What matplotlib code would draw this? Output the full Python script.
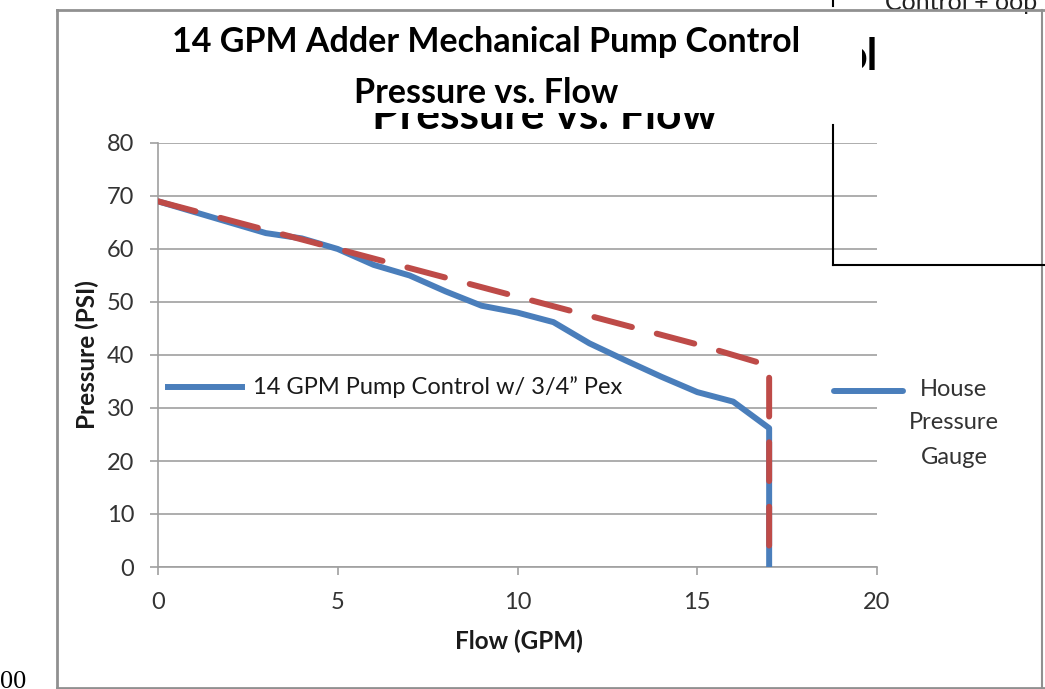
import matplotlib.pyplot as plt
from matplotlib.patches import Rectangle
from matplotlib.lines import Line2D

plt.rcParams['font.family'] = ['Lato', 'DejaVu Sans']

# blue: measured house pressure gauge
flow_gauge = [0, 1, 2, 3, 4, 5, 6, 7, 8, 9, 10, 11, 12, 13, 14, 15, 16, 17, 17]
psi_gauge = [69, 67, 65, 63, 62, 60, 57, 55, 52, 49.3, 48, 46.2, 42.2, 39, 35.9, 33, 31.2, 26.2, 0]
# red dashed: pump control w/ 3/4" pex
flow_pex = [0, 5, 10, 15, 16, 17, 17]
psi_pex = [69, 60, 51, 42, 40, 38, 0]

x_ticks = [0, 5, 10, 15, 20]
y_ticks = [0, 10, 20, 30, 40, 50, 60, 70, 80]

blue = '#4a7ebb'
red = '#be4b48'
grid = '#a0a0a0'
txt = '#1a1a1a'

W, H = 1045, 689
fig = plt.figure(figsize=(10.45, 6.89), dpi=100)


def fx(px):
    return px / W


def fy(py):
    return 1 - py / H


ax = fig.add_axes([fx(158), fy(567), fx(877) - fx(158), fy(143) - fy(567)])
ax.plot(flow_gauge, psi_gauge, color=blue, lw=4.3, solid_capstyle='butt', zorder=3)
ax.plot(flow_pex, psi_pex, color=red, lw=4.3, dashes=(6.5, 4.3), dash_capstyle='round', zorder=4)
ax.set_xlim(0, 20)
ax.set_ylim(0, 80)
ax.set_xticks(x_ticks)
ax.set_yticks(y_ticks)
ax.yaxis.grid(True, color=grid, lw=1.2)
ax.set_axisbelow(True)
for s in ['top', 'right']:
    ax.spines[s].set_visible(False)
for s in ['left', 'bottom']:
    ax.spines[s].set_color(grid)
    ax.spines[s].set_linewidth(1.2)
ax.tick_params(colors=grid, labelcolor='#333333', labelsize=17, length=6, width=1.2)
ax.tick_params(axis='y', pad=11)
ax.tick_params(axis='x', pad=12)

fig.text(fx(519), fy(641), 'Flow (GPM)', fontsize=17.5, fontweight='bold', ha='center',
         va='center', color=txt)
fig.text(fx(87), fy(355), 'Pressure (PSI)', fontsize=17.5, fontweight='bold', ha='center',
         va='center', rotation=90, color=txt)

# in-plot legend entry
fig.add_artist(Line2D([fx(168), fx(242)], [fy(387)] * 2, color=blue, lw=4.3))
fig.text(fx(253), fy(387), '14 GPM Pump Control w/ 3/4\u201d Pex', fontsize=17,
         va='center', ha='left', color=txt)
# right legend entry
fig.add_artist(Line2D([fx(834), fx(903)], [fy(391)] * 2, color=blue, lw=4.3,
                      solid_capstyle='round'))
for word, yy in [('House', 390), ('Pressure', 423), ('Gauge', 457)]:
    fig.text(fx(954), fy(yy), word, fontsize=17, ha='center', va='center', color='#333333')

# leftover title of the chart behind, partly hidden
fig.text(fx(545), fy(129), 'Pressure vs. Flow', fontsize=32, fontweight='bold',
         ha='center', va='baseline', zorder=1)
fig.add_artist(Rectangle((fx(300), fy(113)), fx(500), 113 / H, transform=fig.transFigure,
                         facecolor='white', edgecolor='none', zorder=2))
fig.text(fx(842), fy(70), 'ol', fontsize=31, fontweight='bold', ha='left',
         va='baseline', zorder=1)
fig.add_artist(Rectangle((fx(833), fy(80)), fx(29), 50 / H, transform=fig.transFigure,
                         facecolor='white', edgecolor='none', zorder=2))
fig.text(fx(885), fy(3), 'Control + oop', fontsize=18, ha='left', va='center',
         color='#222222', zorder=1)

# front titles
fig.text(fx(486), fy(42), '14 GPM Adder Mechanical Pump Control', fontsize=24.5,
         fontweight='bold', ha='center', va='center', zorder=5)
fig.text(fx(486), fy(93), 'Pressure vs. Flow', fontsize=24.5, fontweight='bold',
         ha='center', va='center', zorder=5)

# frames
fig.add_artist(Line2D([fx(57), fx(57)], [fy(10), fy(689)], color='#909090', lw=2))
fig.add_artist(Line2D([fx(57), fx(1045)], [fy(10), fy(10)], color='#909090', lw=2))
fig.add_artist(Line2D([fx(1042), fx(1042)], [fy(10), fy(689)], color='#909090', lw=1.5))
fig.add_artist(Line2D([fx(57), fx(1045)], [fy(688), fy(688)], color='#909090', lw=2))
fig.add_artist(Line2D([fx(833), fx(833)], [fy(125), fy(265)], color='black', lw=1.5))
fig.add_artist(Line2D([fx(833), fx(833)], [fy(0), fy(6)], color='black', lw=1.5))
fig.add_artist(Line2D([fx(833), fx(1045)], [fy(265), fy(265)], color='black', lw=1.5))
fig.text(fx(0), fy(682), '00', fontsize=19, family='Liberation Serif', ha='left', va='center')

fig.savefig('out.png', dpi=100)
